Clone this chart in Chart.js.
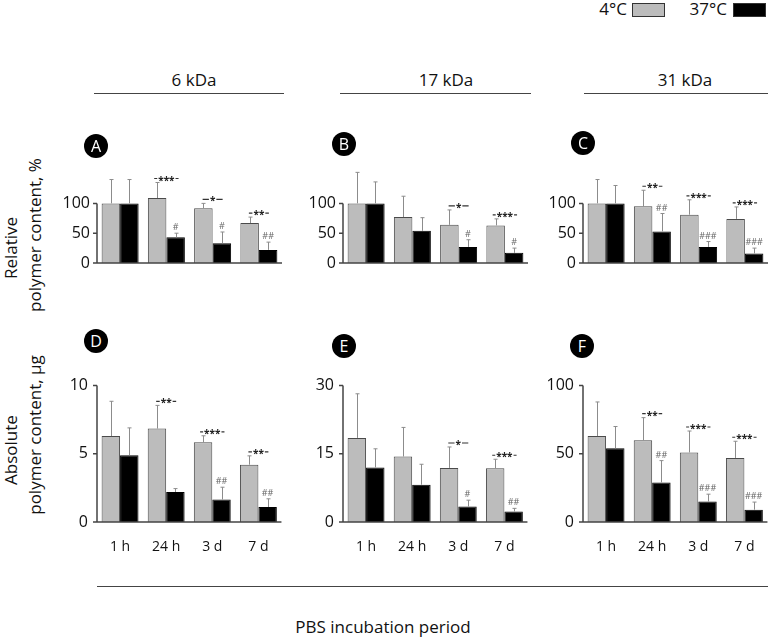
<!DOCTYPE html>
<html lang="en">
<head>
<meta charset="UTF-8">
<title>Polymer content after PBS incubation</title>
<script src="https://cdn.jsdelivr.net/npm/chart.js"></script>
<style>
  body {
    margin: 0;
    width: 768px;
    height: 639px;
    position: relative;
    overflow: hidden;
    background: #fff;
    font-family: "Open Sans", Lato, sans-serif;
    color: #111;
  }
  canvas { position: absolute; }
  .txt { position: absolute; white-space: nowrap; }
  .hline { position: absolute; height: 0; border-top: 1.5px solid #444; }
  .badge {
    position: absolute;
    width: 24px; height: 24px;
    border-radius: 50%;
    background: #000;
    color: #fff;
    font-size: 16px;
    line-height: 24px;
    text-align: center;
  }
  .ytitle {
    position: absolute;
    width: 240px;
    text-align: center;
    font-size: 17px;
    line-height: 20px;
    transform: rotate(-90deg);
  }
  .key { position: absolute; width: 31px; height: 12px; border: 1px solid #333; }
</style>
</head>
<body>
  <!-- legend -->
  <div class="txt" style="right:141px; top:-1px; font-size:17px; line-height:20px;">4°C</div>
  <div class="key" style="left:632px; top:3px; background:#bcbcbc;"></div>
  <div class="txt" style="right:41px; top:-1px; font-size:17px; line-height:20px;">37°C</div>
  <div class="key" style="left:733px; top:3px; background:#000;"></div>

  <!-- column titles -->
  <div class="txt" style="left:94px; width:200px; top:68px; text-align:center; font-size:17px;">6 kDa</div>
  <div class="txt" style="left:346px; width:200px; top:68px; text-align:center; font-size:17px;">17 kDa</div>
  <div class="txt" style="left:585px; width:200px; top:68px; text-align:center; font-size:17px;">31 kDa</div>
  <div class="hline" style="left:94px; width:190px; top:93px;"></div>
  <div class="hline" style="left:340px; width:191px; top:93px;"></div>
  <div class="hline" style="left:584px; width:184px; top:93px;"></div>

  <!-- y titles -->
  <div class="ytitle" style="left:-109px; top:238px;">Relative</div>
  <div class="ytitle" style="left:-85px; top:225px;">polymer content, %</div>
  <div class="ytitle" style="left:-109px; top:440px;">Absolute</div>
  <div class="ytitle" style="left:-85px; top:425px;">polymer content, µg</div>

  <canvas id="chartA" width="239" height="157" style="left:47px; top:151px;"></canvas>
  <canvas id="chartB" width="239" height="157" style="left:293px; top:151px;"></canvas>
  <canvas id="chartC" width="239" height="157" style="left:533px; top:151px;"></canvas>
  <canvas id="chartD" width="239" height="195" style="left:47px; top:367px;"></canvas>
  <canvas id="chartE" width="239" height="195" style="left:293px; top:367px;"></canvas>
  <canvas id="chartF" width="239" height="195" style="left:533px; top:367px;"></canvas>

  <!-- panel letters -->
  <div class="badge" style="left:84px; top:134px;">A</div>
  <div class="badge" style="left:332px; top:132px;">B</div>
  <div class="badge" style="left:571px; top:131px;">C</div>
  <div class="badge" style="left:84px; top:329px;">D</div>
  <div class="badge" style="left:332px; top:334px;">E</div>
  <div class="badge" style="left:570px; top:334px;">F</div>

  <div class="hline" style="left:97px; width:671px; top:586px;"></div>
  <div class="txt" style="left:233px; width:300px; top:615px; text-align:center; font-size:17px;">PBS incubation period</div>

<script>
    const periods = ['1 h', '24 h', '3 d', '7 d'];

    // relative polymer content, % (A 6 kDa, B 17 kDa, C 31 kDa)
    const relA4 = [100, 109, 92, 67];
    const relA37 = [100, 43, 33, 22];
    const relA4Sd = [40, 26, 8, 10];
    const relA37Sd = [40, 7, 19, 13];

    const relB4 = [100, 77, 64, 63];
    const relB37 = [100, 54, 27, 17];
    const relB4Sd = [52, 35, 25, 11];
    const relB37Sd = [36, 22, 12, 8];

    const relC4 = [100, 95, 81, 74];
    const relC37 = [100, 53, 27, 16];
    const relC4Sd = [40, 27, 25, 20];
    const relC37Sd = [30, 30, 9, 9];

    // absolute polymer content, µg (D 6 kDa, E 17 kDa, F 31 kDa)
    const absD4 = [6.3, 6.85, 5.85, 4.2];
    const absD37 = [4.9, 2.2, 1.65, 1.1];
    const absD4Sd = [2.55, 1.7, 0.47, 0.65];
    const absD37Sd = [2.0, 0.25, 0.9, 0.6];

    const absE4 = [18.5, 14.4, 11.9, 11.8];
    const absE37 = [12.0, 8.2, 3.4, 2.3];
    const absE4Sd = [9.7, 6.4, 4.6, 2.0];
    const absE37Sd = [4.1, 4.5, 1.4, 0.7];

    const absF4 = [63, 60, 51, 47];
    const absF37 = [54, 29, 15, 9];
    const absF4Sd = [25, 16.5, 15.7, 12.2];
    const absF37Sd = [16, 16, 5.4, 5.6];

    // y ticks
    const relTicks = [0, 50, 100];
    const absDTicks = [0, 5, 10];
    const absETicks = [0, 15, 30];
    const absFTicks = [0, 50, 100];

    // significance: 4°C vs 37°C (*) and vs 1 h (#)
    const starsA = ['', '***', '*', '**'];
    const hashA = ['', '#', '#', '##'];
    const starsB = ['', '', '*', '***'];
    const hashB = ['', '', '#', '#'];
    const starsC = ['', '**', '***', '***'];
    const hashC = ['', '##', '###', '###'];
    const starsD = ['', '**', '***', '**'];
    const hashD = ['', '', '##', '##'];
    const starsE = ['', '', '*', '***'];
    const hashE = ['', '', '#', '##'];
    const starsF = ['', '**', '***', '***'];
    const hashF = ['', '##', '###', '###'];

    Chart.defaults.font.family = '"Open Sans", Lato, sans-serif';
    Chart.defaults.color = '#111';

    // error bars, axis lines and significance marks
    const decor = {
        id: 'decor',
        afterDatasetsDraw(chart, args, opts) {
            const ctx = chart.ctx;
            const y = chart.scales.y;
            const area = chart.chartArea;
            const ds = chart.data.datasets;
            const cold = chart.getDatasetMeta(0).data;
            const warm = chart.getDatasetMeta(1).data;
            ctx.save();

            ctx.strokeStyle = '#8c8c8c';
            ctx.lineWidth = 1;
            [0, 1].forEach(i => {
                chart.getDatasetMeta(i).data.forEach((bar, j) => {
                    const top = y.getPixelForValue(ds[i].data[j] + ds[i].sd[j]);
                    const x = Math.round(bar.x) + 0.5;
                    ctx.beginPath();
                    ctx.moveTo(x, bar.y);
                    ctx.lineTo(x, top);
                    ctx.moveTo(x - 2, top);
                    ctx.lineTo(x + 2, top);
                    ctx.stroke();
                });
            });

            // axes
            const y0 = y.getPixelForValue(0);
            const yTop = y.getPixelForValue(opts.ticks[opts.ticks.length - 1]);
            ctx.strokeStyle = '#444';
            ctx.lineWidth = 1.5;
            ctx.beginPath();
            ctx.moveTo(area.left, y0);
            ctx.lineTo(area.right, y0);
            ctx.moveTo(area.left, y0);
            ctx.lineTo(area.left, yTop);
            opts.ticks.forEach(v => {
                const p = y.getPixelForValue(v);
                ctx.moveTo(area.left - 4, p);
                ctx.lineTo(area.left, p);
            });
            ctx.stroke();

            // stars over the pair, hashes over the 37°C bar
            ctx.textAlign = 'center';
            ctx.textBaseline = 'alphabetic';
            opts.stars.forEach((s, j) => {
                if (!s) return;
                const cx = (cold[j].x + warm[j].x) / 2;
                const yy = y.getPixelForValue(ds[0].data[j] + ds[0].sd[j]) - 4;
                ctx.font = 'bold 10px "Open Sans", sans-serif';
                ctx.fillStyle = '#222';
                const m = ctx.measureText(s);
                const w = m.width;
                // put the dash at the middle of the asterisks
                const base = yy + (m.actualBoundingBoxAscent - m.actualBoundingBoxDescent) / 2;
                ctx.fillText(s, cx, base);
                const half = Math.max(10, w / 2 + 4);
                ctx.strokeStyle = '#333';
                ctx.lineWidth = 1.2;
                ctx.beginPath();
                ctx.moveTo(cx - half, yy);
                ctx.lineTo(cx - w / 2 - 1, yy);
                ctx.moveTo(cx + w / 2 + 1, yy);
                ctx.lineTo(cx + half, yy);
                ctx.stroke();
            });
            opts.hashes.forEach((h, j) => {
                if (!h) return;
                const yy = y.getPixelForValue(ds[1].data[j] + ds[1].sd[j]) - 3;
                ctx.font = '9px "Open Sans", sans-serif';
                ctx.fillStyle = '#666';
                ctx.fillText(h, warm[j].x, yy);
            });
            ctx.restore();
        }
    };

    function makePanel(id, cold, warm, coldSd, warmSd, ticks, max, stars, hashes, bottomRow) {
        new Chart(document.getElementById(id), {
            type: 'bar',
            data: {
                labels: periods,
                datasets: [{
                    label: '4°C',
                    data: cold,
                    sd: coldSd,
                    backgroundColor: '#bcbcbc',
                    borderColor: '#4a4a4a',
                    borderWidth: 1,
                    categoryPercentage: 0.8,
                    barPercentage: 1.0
                }, {
                    label: '37°C',
                    data: warm,
                    sd: warmSd,
                    backgroundColor: '#000',
                    borderColor: '#000',
                    borderWidth: 1,
                    categoryPercentage: 0.8,
                    barPercentage: 1.0
                }]
            },
            options: {
                responsive: false,
                animation: false,
                layout: { padding: { top: 14, bottom: bottomRow ? 0 : 5, left: 0, right: 4 } },
                plugins: {
                    legend: { display: false },
                    tooltip: { enabled: false },
                    decor: { ticks: ticks, stars: stars, hashes: hashes }
                },
                scales: {
                    x: {
                        display: bottomRow,
                        grid: { display: false, drawTicks: false },
                        border: { display: false },
                        ticks: { font: { size: 14 }, padding: 17, maxRotation: 0 },
                        afterFit: s => { s.height = 40; }
                    },
                    y: {
                        min: 0,
                        max: max,
                        grid: { display: false, drawTicks: false },
                        border: { display: false },
                        ticks: { font: { size: 16 }, padding: bottomRow ? 9 : 7 },
                        afterBuildTicks: s => { s.ticks = ticks.map(v => ({ value: v })); },
                        afterFit: s => { s.width = 50; }
                    }
                }
            },
            plugins: [decor]
        });
    }

    makePanel('chartA', relA4, relA37, relA4Sd, relA37Sd, relTicks, 160, starsA, hashA, false);
    makePanel('chartB', relB4, relB37, relB4Sd, relB37Sd, relTicks, 160, starsB, hashB, false);
    makePanel('chartC', relC4, relC37, relC4Sd, relC37Sd, relTicks, 160, starsC, hashC, false);
    makePanel('chartD', absD4, absD37, absD4Sd, absD37Sd, absDTicks, 10, starsD, hashD, true);
    makePanel('chartE', absE4, absE37, absE4Sd, absE37Sd, absETicks, 30, starsE, hashE, true);
    makePanel('chartF', absF4, absF37, absF4Sd, absF37Sd, absFTicks, 100, starsF, hashF, true);
</script>
</body>
</html>
